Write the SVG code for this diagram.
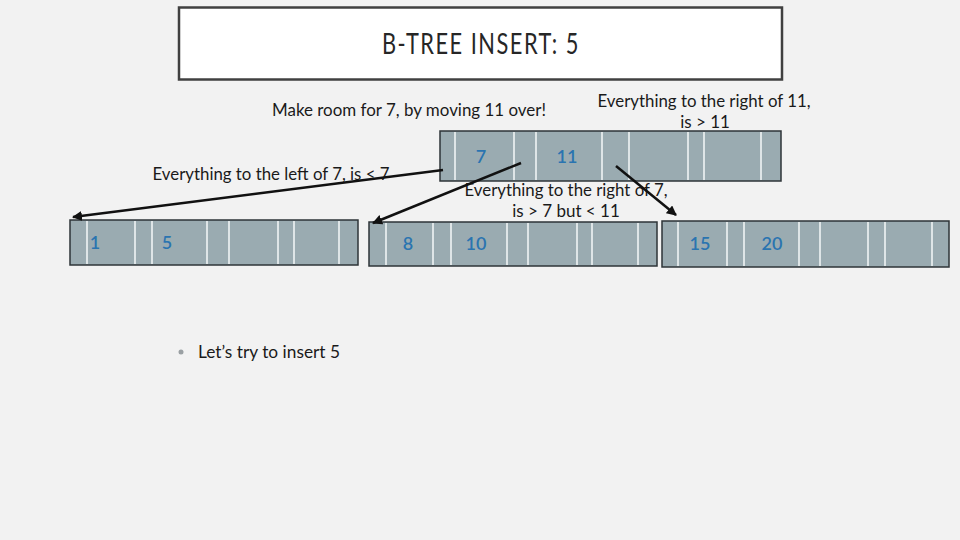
<svg xmlns="http://www.w3.org/2000/svg" width="960" height="540" viewBox="0 0 960 540">
<defs>
<style>
.t{font-family:Lato,"Open Sans","Liberation Sans",sans-serif;fill:#1a1a1a;font-size:17px}
.node{fill:#9aabb1;stroke:#2e3538;stroke-width:1.5}
.div{stroke:#f4f8fa;stroke-width:1.5}
.key{font-family:Lato,"Open Sans","Liberation Sans",sans-serif;fill:#2a74b0;font-size:18px;font-weight:600}
.conn{stroke:#111;stroke-width:2.5;fill:none;marker-end:url(#ah)}
</style>
<marker id="ah" viewBox="0 0 10 10" refX="9" refY="5" markerWidth="4" markerHeight="4" orient="auto" markerUnits="strokeWidth">
<path d="M0,0 L10,5 L0,10 z" fill="#111"/>
</marker>
</defs>
<rect width="960" height="540" fill="#f2f2f2"/>
<g id="title">
<rect x="179" y="7.5" width="603" height="72" fill="#ffffff" stroke="#404040" stroke-width="2.5"/>
<text x="481" y="54" text-anchor="middle" font-family="Lato,'Open Sans','Liberation Sans',sans-serif" font-size="29" fill="#262626" letter-spacing="2" textLength="198" lengthAdjust="spacingAndGlyphs">B-TREE INSERT: 5</text>
</g>
<g id="root">
<rect class="node" x="440" y="131" width="341" height="50"/>
<g class="div"><line x1="455" y1="132" x2="455" y2="180"/><line x1="514" y1="132" x2="514" y2="180"/><line x1="536" y1="132" x2="536" y2="180"/><line x1="602" y1="132" x2="602" y2="180"/><line x1="629" y1="132" x2="629" y2="180"/><line x1="688" y1="132" x2="688" y2="180"/><line x1="704" y1="132" x2="704" y2="180"/><line x1="761" y1="132" x2="761" y2="180"/></g>
<text class="key" x="481" y="163" text-anchor="middle">7</text>
<text class="key" x="567" y="163" text-anchor="middle">11</text>
</g>
<g id="leaf1">
<rect class="node" x="70" y="220" width="288" height="45"/>
<g class="div"><line x1="87" y1="221" x2="87" y2="264"/><line x1="135" y1="221" x2="135" y2="264"/><line x1="152" y1="221" x2="152" y2="264"/><line x1="207" y1="221" x2="207" y2="264"/><line x1="229" y1="221" x2="229" y2="264"/><line x1="278" y1="221" x2="278" y2="264"/><line x1="294" y1="221" x2="294" y2="264"/><line x1="339" y1="221" x2="339" y2="264"/></g>
<text class="key" x="95" y="249" text-anchor="middle">1</text>
<text class="key" x="167" y="249" text-anchor="middle">5</text>
</g>
<g id="leaf2">
<rect class="node" x="369" y="222" width="288" height="44"/>
<g class="div"><line x1="386" y1="223" x2="386" y2="265"/><line x1="433" y1="223" x2="433" y2="265"/><line x1="451" y1="223" x2="451" y2="265"/><line x1="507" y1="223" x2="507" y2="265"/><line x1="528" y1="223" x2="528" y2="265"/><line x1="577" y1="223" x2="577" y2="265"/><line x1="592" y1="223" x2="592" y2="265"/><line x1="638" y1="223" x2="638" y2="265"/></g>
<text class="key" x="408" y="250" text-anchor="middle">8</text>
<text class="key" x="476" y="250" text-anchor="middle">10</text>
</g>
<g id="leaf3">
<rect class="node" x="662" y="221" width="287" height="46"/>
<g class="div"><line x1="678" y1="222" x2="678" y2="266"/><line x1="727" y1="222" x2="727" y2="266"/><line x1="744" y1="222" x2="744" y2="266"/><line x1="799" y1="222" x2="799" y2="266"/><line x1="820" y1="222" x2="820" y2="266"/><line x1="868" y1="222" x2="868" y2="266"/><line x1="885" y1="222" x2="885" y2="266"/><line x1="932" y1="222" x2="932" y2="266"/></g>
<text class="key" x="700" y="250" text-anchor="middle">15</text>
<text class="key" x="772" y="250" text-anchor="middle">20</text>
</g>
<g id="labels">
<text class="t" x="409" y="116" text-anchor="middle" textLength="274" lengthAdjust="spacingAndGlyphs">Make room for 7, by moving 11 over!</text>
<text class="t" x="704" y="107" text-anchor="middle" textLength="213" lengthAdjust="spacingAndGlyphs">Everything to the right of 11,</text>
<text class="t" x="705" y="128" text-anchor="middle">is &gt; 11</text>
<text class="t" x="271" y="180" text-anchor="middle" textLength="237" lengthAdjust="spacingAndGlyphs">Everything to the left of 7, is &lt; 7</text>
<text class="t" x="566" y="196" text-anchor="middle" textLength="203" lengthAdjust="spacingAndGlyphs">Everything to the right of 7,</text>
<text class="t" x="566" y="217" text-anchor="middle">is &gt; 7 but &lt; 11</text>
</g>
<g id="connectors">
<line class="conn" x1="443" y1="170" x2="73" y2="217"/>
<line class="conn" x1="521" y1="163" x2="373" y2="223"/>
<line class="conn" x1="616" y1="166" x2="676" y2="215"/>
</g>
<g id="bullet">
<circle cx="181" cy="352" r="2.5" fill="#9aa0a3"/>
<text class="t" x="198" y="358" textLength="142" lengthAdjust="spacingAndGlyphs">Let’s try to insert 5</text>
</g>
</svg>
